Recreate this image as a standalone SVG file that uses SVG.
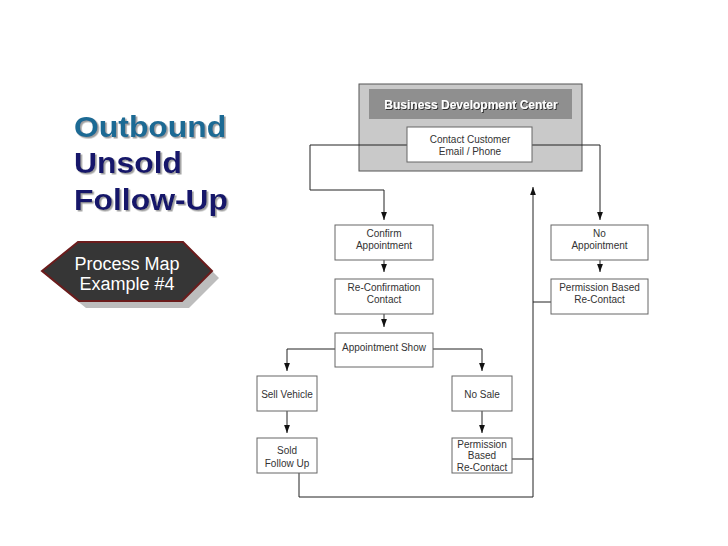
<svg xmlns="http://www.w3.org/2000/svg" width="728" height="546" viewBox="0 0 728 546">
<defs>
<style>
text{font-family:"Liberation Sans",Arial,sans-serif}
.box{fill:#fff;stroke:#666;stroke-width:1}
.lbl{font-size:10px;fill:#333;text-anchor:middle}
.con{fill:none;stroke:#222;stroke-width:1}
.title{font-size:29px;font-weight:bold}
</style>
<marker id="ah" markerUnits="userSpaceOnUse" markerWidth="9" markerHeight="7" refX="8" refY="3.5" orient="auto">
<path d="M0,0.6 L8,3.5 L0,6.4 Z" fill="#111"/>
</marker>
<filter id="sh" x="-10%" y="-10%" width="130%" height="140%">
<feDropShadow dx="1.5" dy="1.5" stdDeviation="0.6" flood-color="#888" flood-opacity="0.8"/>
</filter>
<filter id="wsh" x="-5%" y="-20%" width="110%" height="150%">
<feDropShadow dx="1" dy="1" stdDeviation="0.3" flood-color="#222" flood-opacity="0.9"/>
</filter>
</defs>
<rect width="728" height="546" fill="#fff"/>

<g id="title" filter="url(#sh)" transform="translate(74,0) scale(1.1,1)">
<text class="title" x="0" y="137" fill="#1d6a94">Outbound</text>
<text class="title" x="0" y="173" fill="#15196a">Unsold</text>
<text class="title" x="0" y="210" fill="#15196a">Follow-Up</text>
</g>

<g id="process-map-badge">
<polygon points="49,278 85,249 190,249 219,278 189,308 86,308" fill="#bdbdbd"/>
<polygon points="42,271 78,242 183,242 212,271 182,301 79,301" fill="#363636" stroke="#6b1c1c" stroke-width="2"/>
<text x="127" y="270" font-size="18" fill="#fff" text-anchor="middle">Process Map</text>
<text x="127" y="290" font-size="18" fill="#fff" text-anchor="middle">Example #4</text>
</g>

<g id="bdc">
<rect x="359" y="84" width="223" height="87" fill="#c9c9c9" stroke="#555" stroke-width="1"/>
<rect x="369" y="89" width="203" height="30" fill="#8f8f8f"/>
<text x="471" y="109" font-size="12" font-weight="bold" fill="#fff" text-anchor="middle" filter="url(#wsh)">Business Development Center</text>
</g>

<g id="connectors">
<path class="con" d="M310,145 L600,145" stroke="#444"/>
<path class="con" d="M310,145 L310,190 L384,190 L384,220" marker-end="url(#ah)"/>
<path class="con" d="M600,145 L600,220" marker-end="url(#ah)"/>
<path class="con" d="M384,260 L384,272" marker-end="url(#ah)"/>
<path class="con" d="M384,314 L384,327" marker-end="url(#ah)"/>
<path class="con" d="M600,260 L600,272" marker-end="url(#ah)"/>
<path class="con" d="M335,349 L287,349 L287,371" marker-end="url(#ah)"/>
<path class="con" d="M433,349 L482,349 L482,371" marker-end="url(#ah)"/>
<path class="con" d="M287,411 L287,433" marker-end="url(#ah)"/>
<path class="con" d="M482,411 L482,433" marker-end="url(#ah)"/>
<path class="con" d="M299,473 L299,497 L533,497 L533,187" marker-end="url(#ah)"/>
<path class="con" d="M512,459 L533,459"/>
<path class="con" d="M551,302 L533,302"/>
</g>

<g id="contact-customer">
<rect class="box" x="407" y="127" width="125" height="35"/>
<text class="lbl" x="470" y="143">Contact Customer</text>
<text class="lbl" x="470" y="155">Email / Phone</text>
</g>

<g id="confirm-appointment">
<rect class="box" x="335" y="225" width="98" height="35"/>
<text class="lbl" x="384" y="237">Confirm</text>
<text class="lbl" x="384" y="249">Appointment</text>
</g>

<g id="reconfirmation-contact">
<rect class="box" x="335" y="279" width="98" height="35"/>
<text class="lbl" x="384" y="291">Re-Confirmation</text>
<text class="lbl" x="384" y="302.5">Contact</text>
</g>

<g id="appointment-show">
<rect class="box" x="335" y="333" width="98" height="34"/>
<text class="lbl" x="384" y="351">Appointment Show</text>
</g>

<g id="no-appointment">
<rect class="box" x="551" y="225" width="97" height="35"/>
<text class="lbl" x="599.5" y="237">No</text>
<text class="lbl" x="599.5" y="249">Appointment</text>
</g>

<g id="permission-based-recontact-1">
<rect class="box" x="551" y="279" width="97" height="35"/>
<text class="lbl" x="599.5" y="291">Permission Based</text>
<text class="lbl" x="599.5" y="302.5">Re-Contact</text>
</g>

<g id="sell-vehicle">
<rect class="box" x="257" y="376" width="60" height="35"/>
<text class="lbl" x="287" y="398">Sell Vehicle</text>
</g>

<g id="sold-follow-up">
<rect class="box" x="257" y="438" width="60" height="35"/>
<text class="lbl" x="287" y="454">Sold</text>
<text class="lbl" x="287" y="466.5">Follow Up</text>
</g>

<g id="no-sale">
<rect class="box" x="452" y="376" width="60" height="35"/>
<text class="lbl" x="482" y="398">No Sale</text>
</g>

<g id="permission-based-recontact-2">
<rect class="box" x="452" y="438" width="60" height="35"/>
<text class="lbl" x="482" y="447.5">Permission</text>
<text class="lbl" x="482" y="459">Based</text>
<text class="lbl" x="482" y="470.5">Re-Contact</text>
</g>
</svg>
